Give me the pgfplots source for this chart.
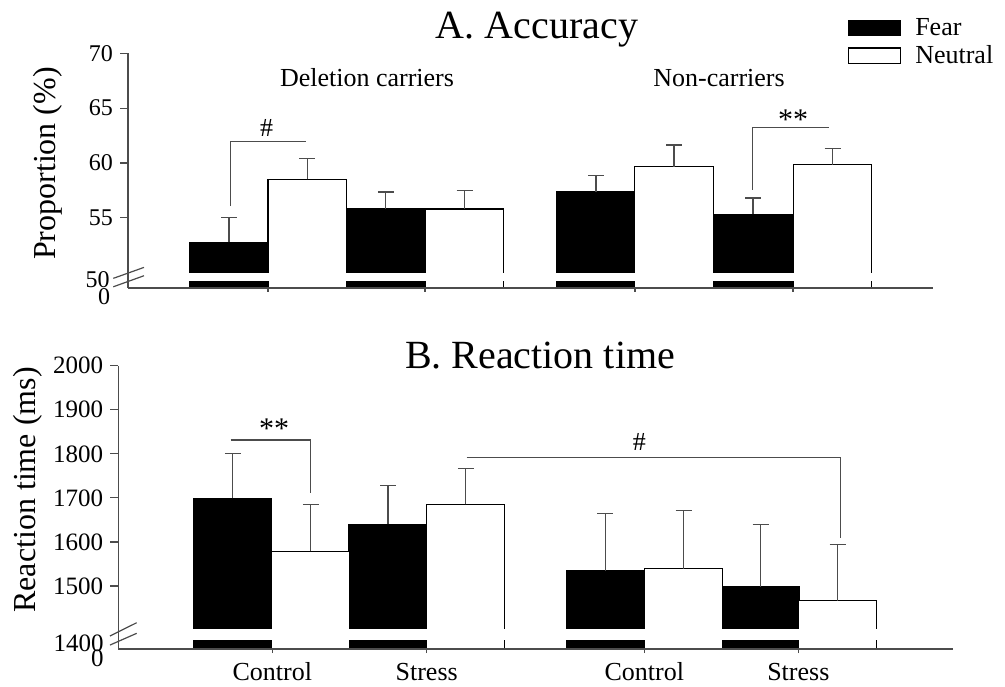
\documentclass[border=0pt]{standalone}
\usepackage{fontspec}
\setmainfont{Liberation Serif}
\usepackage{pgfplots}
\pgfplotsset{compat=1.18}
\definecolor{ax}{gray}{0.3}
\pgfplotsset{
  common/.style={
    scale only axis,
    axis x line=bottom, axis y line=left,
    axis line style={-, draw=ax, line width=0.6pt},
    clip mode=individual,
    axis on top,
    tick align=outside,
    major tick length=4pt,
    tick style={draw=ax, line width=0.6pt},
    /pgf/number format/assume math mode=true,
    /pgf/number format/1000 sep={},
    ybar, bar shift=0pt,
    xtick=\empty,
    extra x tick style={major tick length=2pt},
  },
  fearbar/.style={fill=black, draw=black, line width=0.6pt,
    error bars/.cd, y dir=plus, y explicit,
    error bar style={draw=ax, line width=0.6pt},
    error mark options={rotate=90, mark size=4pt, draw=ax, line width=0.6pt}},
  neutbar/.style={fill=white, draw=black, line width=0.6pt,
    error bars/.cd, y dir=plus, y explicit,
    error bar style={draw=ax, line width=0.6pt},
    error mark options={rotate=90, mark size=4pt, draw=ax, line width=0.6pt}},
}
\begin{document}
\begin{tikzpicture}
\path[use as bounding box] (0,0) rectangle (502.5pt,343pt);

% ---------------- A. Accuracy ----------------
\begin{axis}[common,
  at={(64pt,199pt)}, anchor=south west,
  width=402.5pt, height=117.35pt,
  xmin=128, xmax=933, ymin=48.59, ymax=70,
  bar width=78.5,
  ytick={55,60,65,70},
  yticklabel style={font=\fontsize{12}{12}\selectfont},
  extra x ticks={268,425,635,793}, extra x tick labels={},
  legend style={at={(axis description cs:0.894,1.152)}, anchor=north west,
    draw=none, fill=none, inner sep=0pt, row sep=3.5pt,
    font=\fontsize{13}{13}\selectfont,
    nodes={inner sep=0pt, anchor=west},
    /tikz/every odd column/.append style={column sep=7pt}},
  legend cell align=left,
  legend image code/.code={\draw[#1, line width=0.6pt] (0pt,-3.8pt) rectangle (26pt,3.8pt);},
]
\addplot[fearbar] coordinates {
  (229,52.76) +- (0,2.24)
  (385.8,55.8) +- (0,1.55)
  (596,57.36) +- (0,1.49)
  (753,55.3) +- (0,1.5)
};
\addlegendentry{Fear}
\addplot[neutbar] coordinates {
  (307.3,58.5) +- (0,1.92)
  (464.5,55.8) +- (0,1.7)
  (674,59.64) +- (0,2.0)
  (832.5,59.85) +- (0,1.45)
};
\addlegendentry{Neutral}
% axis break band
\fill[white] (axis cs:128.5,49.25) rectangle (axis cs:933,50);
\draw[ax, line width=0.6pt] (axis cs:113.3,49.47) -- (axis cs:144,50.47);
\draw[ax, line width=0.6pt] (axis cs:113.3,48.70) -- (axis cs:144,49.71);
\node[anchor=east, inner sep=0pt, font=\fontsize{12}{12}\selectfont] at (axis cs:110,49.32) {50};
\node[anchor=east, inner sep=0pt, font=\fontsize{12}{12}\selectfont] at (axis cs:110.5,47.76) {0};
% significance brackets
\draw[ax, line width=0.6pt] (axis cs:230.7,56.07) -- (axis cs:230.7,61.93) -- (axis cs:306,61.93);
\node[font=\fontsize{13}{13}\selectfont] at (axis cs:266.7,63.18) {\#};
\draw[ax, line width=0.6pt] (axis cs:752.3,57.53) -- (axis cs:752.3,63.21) -- (axis cs:829.3,63.21);
\node[font=\fontsize{15}{15}\selectfont] at (axis cs:793,63.9) {**};
\end{axis}

% ---------------- B. Reaction time ----------------
\begin{axis}[common,
  at={(59.15pt,18.5pt)}, anchor=south west,
  width=417.2pt, height=141.65pt,
  xmin=118.3, xmax=952.7, ymin=1357, ymax=2000,
  bar width=78,
  ytick={1500,1600,1700,1800,1900,2000},
  yticklabel style={font=\fontsize{12.5}{12.5}\selectfont},
  extra x ticks={272.3,426.7,644.3,798.3},
  extra x tick labels={Control,Stress,Control,Stress},
  xticklabel style={font=\fontsize{13}{13}\selectfont, text height=9pt, text depth=0pt, yshift=-1pt},
]
\addplot[fearbar] coordinates {
  (232.8,1699) +- (0,102)
  (388,1640) +- (0,88)
  (605.2,1534) +- (0,131)
  (760.5,1498) +- (0,141)
};
\addplot[neutbar] coordinates {
  (310.8,1579) +- (0,106)
  (465.8,1685) +- (0,82)
  (683.5,1539) +- (0,132)
  (837.5,1467) +- (0,128)
};
\fill[white] (axis cs:119,1377.4) rectangle (axis cs:952.7,1401.7);
\draw[ax, line width=0.6pt] (axis cs:110,1386.5) -- (axis cs:136.7,1416.7);
\draw[ax, line width=0.6pt] (axis cs:110,1366) -- (axis cs:136.7,1392.6);
\node[anchor=east, inner sep=0pt, font=\fontsize{12.5}{12.5}\selectfont] at (axis cs:104,1370) {1400};
\node[anchor=east, inner sep=0pt, font=\fontsize{12.5}{12.5}\selectfont] at (axis cs:104,1336) {0};
\draw[ax, line width=0.6pt] (axis cs:230.7,1831.4) -- (axis cs:310.7,1831.4) -- (axis cs:310.7,1710.4);
\node[font=\fontsize{15}{15}\selectfont] at (axis cs:274,1858) {**};
\draw[ax, line width=0.6pt] (axis cs:466.7,1791.2) -- (axis cs:840.7,1791.2) -- (axis cs:840.7,1609);
\node[font=\fontsize{13}{13}\selectfont] at (axis cs:639.3,1827) {\#};
\end{axis}

% ---------------- titles and labels ----------------
\node[font=\fontsize{20}{20}\selectfont] at (268.5pt,328pt) {A. Accuracy};
\node[font=\fontsize{20}{20}\selectfont] at (270pt,165pt) {B. Reaction time};
\node[font=\fontsize{13}{13}\selectfont] at (183.5pt,304pt) {Deletion carriers};
\node[font=\fontsize{13}{13}\selectfont] at (359.5pt,304pt) {Non-carriers};
\node[rotate=90, font=\fontsize{16}{16}\selectfont] at (24pt,261.25pt) {Proportion (\%)};
\node[rotate=90, font=\fontsize{16}{16}\selectfont] at (13.75pt,98pt) {Reaction time (ms)};
\end{tikzpicture}
\end{document}
